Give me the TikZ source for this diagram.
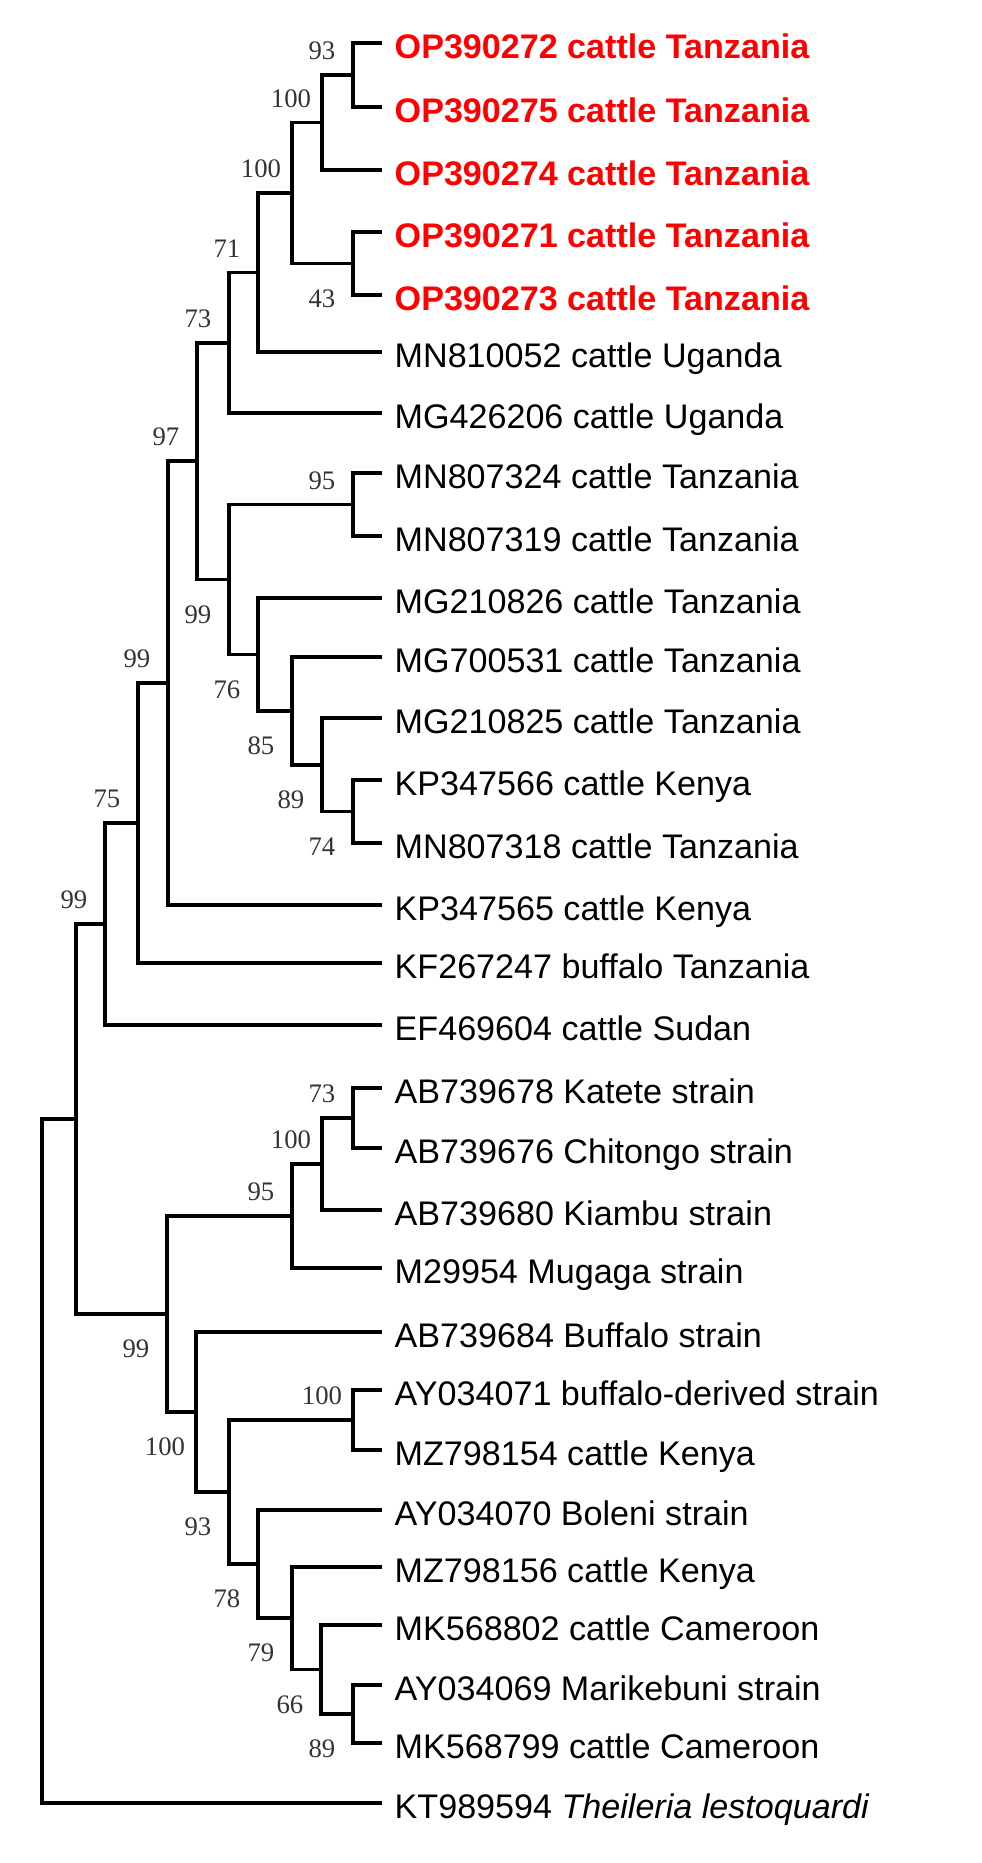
\documentclass[tikz,border=0pt]{standalone}
\usepackage{fontspec}
\setmainfont{Liberation Sans}
\newfontfamily\bootfont{Liberation Serif}
\usetikzlibrary{positioning}

\begin{document}
\begin{tikzpicture}[x=0.01cm,y=-0.01cm,
  branch/.style={line width=1pt,black},
  leaf/.style={inner sep=0.02cm,text height=0.3cm,text depth=0cm,font=\fontsize{9.7}{11.6}\selectfont},
  newseq/.style={leaf,text=red,font=\fontsize{9.7}{11.6}\selectfont\bfseries},
  boot/.style={inner sep=0pt,text=black!80,font=\bootfont\fontsize{7.6}{9}\selectfont},
  bup/.style={boot,xshift=-0.31cm,yshift=0.24cm},
  bdown/.style={boot,xshift=-0.31cm,yshift=-0.35cm}]
\useasboundingbox (0,0) rectangle (981,1863);
% leaf tips
\coordinate (t0) at (382,43);
\coordinate (t1) at (382,107);
\coordinate (t2) at (382,170);
\coordinate (t3) at (382,232);
\coordinate (t4) at (382,295);
\coordinate (t5) at (382,352);
\coordinate (t6) at (382,413);
\coordinate (t7) at (382,473);
\coordinate (t8) at (382,536);
\coordinate (t9) at (382,598);
\coordinate (t10) at (382,657);
\coordinate (t11) at (382,718);
\coordinate (t12) at (382,780);
\coordinate (t13) at (382,843);
\coordinate (t14) at (382,905);
\coordinate (t15) at (382,963);
\coordinate (t16) at (382,1025);
\coordinate (t17) at (382,1088);
\coordinate (t18) at (382,1148);
\coordinate (t19) at (382,1210);
\coordinate (t20) at (382,1268);
\coordinate (t21) at (382,1332);
\coordinate (t22) at (382,1390);
\coordinate (t23) at (382,1450);
\coordinate (t24) at (382,1510);
\coordinate (t25) at (382,1567);
\coordinate (t26) at (382,1625);
\coordinate (t27) at (382,1685);
\coordinate (t28) at (382,1743);
\coordinate (t29) at (382,1803);
% taxa
\node[newseq,right=0.1cm of t0] (n0) {OP390272 cattle Tanzania};
\node[newseq,right=0.1cm of t1] (n1) {OP390275 cattle Tanzania};
\node[newseq,right=0.1cm of t2] (n2) {OP390274 cattle Tanzania};
\node[newseq,right=0.1cm of t3] (n3) {OP390271 cattle Tanzania};
\node[newseq,right=0.1cm of t4] (n4) {OP390273 cattle Tanzania};
\node[leaf,right=0.1cm of t5] (n5) {MN810052 cattle Uganda};
\node[leaf,right=0.1cm of t6] (n6) {MG426206 cattle Uganda};
\node[leaf,right=0.1cm of t7] (n7) {MN807324 cattle Tanzania};
\node[leaf,right=0.1cm of t8] (n8) {MN807319 cattle Tanzania};
\node[leaf,right=0.1cm of t9] (n9) {MG210826 cattle Tanzania};
\node[leaf,right=0.1cm of t10] (n10) {MG700531 cattle Tanzania};
\node[leaf,right=0.1cm of t11] (n11) {MG210825 cattle Tanzania};
\node[leaf,right=0.1cm of t12] (n12) {KP347566 cattle Kenya};
\node[leaf,right=0.1cm of t13] (n13) {MN807318 cattle Tanzania};
\node[leaf,right=0.1cm of t14] (n14) {KP347565 cattle Kenya};
\node[leaf,right=0.1cm of t15] (n15) {KF267247 buffalo Tanzania};
\node[leaf,right=0.1cm of t16] (n16) {EF469604 cattle Sudan};
\node[leaf,right=0.1cm of t17] (n17) {AB739678 Katete strain};
\node[leaf,right=0.1cm of t18] (n18) {AB739676 Chitongo strain};
\node[leaf,right=0.1cm of t19] (n19) {AB739680 Kiambu strain};
\node[leaf,right=0.1cm of t20] (n20) {M29954 Mugaga strain};
\node[leaf,right=0.1cm of t21] (n21) {AB739684 Buffalo strain};
\node[leaf,right=0.1cm of t22] (n22) {AY034071 buffalo-derived strain};
\node[leaf,right=0.1cm of t23] (n23) {MZ798154 cattle Kenya};
\node[leaf,right=0.1cm of t24] (n24) {AY034070 Boleni strain};
\node[leaf,right=0.1cm of t25] (n25) {MZ798156 cattle Kenya};
\node[leaf,right=0.1cm of t26] (n26) {MK568802 cattle Cameroon};
\node[leaf,right=0.1cm of t27] (n27) {AY034069 Marikebuni strain};
\node[leaf,right=0.1cm of t28] (n28) {MK568799 cattle Cameroon};
\node[leaf,right=0.1cm of t29] (n29) {KT989594 \textit{Theileria lestoquardi}};
% internal nodes
\coordinate (A) at (353,75);
\coordinate (B) at (322,122.5);
\coordinate (C) at (353,263.5);
\coordinate (D) at (292,193);
\coordinate (E) at (258,272.5);
\coordinate (F) at (229,342.75);
\coordinate (J) at (353,504.5);
\coordinate (N) at (353,811.5);
\coordinate (M) at (322,764.75);
\coordinate (L) at (292,710.9);
\coordinate (K) at (258,654.4);
\coordinate (H) at (229,579.5);
\coordinate (G) at (197,461);
\coordinate (I) at (168,683);
\coordinate (P) at (138,823);
\coordinate (Q) at (105,924);
\coordinate (T) at (353,1118);
\coordinate (U) at (322,1164);
\coordinate (V) at (292,1216);
\coordinate (Y) at (353,1420);
\coordinate (Z4) at (353,1714);
\coordinate (Z3) at (321,1669.5);
\coordinate (Z2) at (292,1618);
\coordinate (Z) at (258,1564);
\coordinate (X) at (229,1492);
\coordinate (W) at (196,1412);
\coordinate (S) at (167,1314);
\coordinate (R) at (76,1119);
\coordinate (root) at (42,1461);
% branches
\draw[branch] (A) |- (t0); \draw[branch] (A) |- (t1);
\draw[branch] (B) |- (A); \draw[branch] (B) |- (t2);
\draw[branch] (C) |- (t3); \draw[branch] (C) |- (t4);
\draw[branch] (D) |- (B); \draw[branch] (D) |- (C);
\draw[branch] (E) |- (D); \draw[branch] (E) |- (t5);
\draw[branch] (F) |- (E); \draw[branch] (F) |- (t6);
\draw[branch] (J) |- (t7); \draw[branch] (J) |- (t8);
\draw[branch] (N) |- (t12); \draw[branch] (N) |- (t13);
\draw[branch] (M) |- (t11); \draw[branch] (M) |- (N);
\draw[branch] (L) |- (t10); \draw[branch] (L) |- (M);
\draw[branch] (K) |- (t9); \draw[branch] (K) |- (L);
\draw[branch] (H) |- (J); \draw[branch] (H) |- (K);
\draw[branch] (G) |- (F); \draw[branch] (G) |- (H);
\draw[branch] (I) |- (G); \draw[branch] (I) |- (t14);
\draw[branch] (P) |- (I); \draw[branch] (P) |- (t15);
\draw[branch] (Q) |- (P); \draw[branch] (Q) |- (t16);
\draw[branch] (T) |- (t17); \draw[branch] (T) |- (t18);
\draw[branch] (U) |- (T); \draw[branch] (U) |- (t19);
\draw[branch] (V) |- (U); \draw[branch] (V) |- (t20);
\draw[branch] (Y) |- (t22); \draw[branch] (Y) |- (t23);
\draw[branch] (Z4) |- (t27); \draw[branch] (Z4) |- (t28);
\draw[branch] (Z3) |- (t26); \draw[branch] (Z3) |- (Z4);
\draw[branch] (Z2) |- (t25); \draw[branch] (Z2) |- (Z3);
\draw[branch] (Z) |- (t24); \draw[branch] (Z) |- (Z2);
\draw[branch] (X) |- (Y); \draw[branch] (X) |- (Z);
\draw[branch] (W) |- (t21); \draw[branch] (W) |- (X);
\draw[branch] (S) |- (V); \draw[branch] (S) |- (W);
\draw[branch] (R) |- (Q); \draw[branch] (R) |- (S);
\draw[branch] (root) |- (R); \draw[branch] (root) |- (t29);
% bootstrap values
\node[bup] (bA) at (A) {93};
\node[bup] (bB) at (B) {100};
\node[bdown] (bC) at (C) {43};
\node[bup] (bD) at (D) {100};
\node[bup] (bE) at (E) {71};
\node[bup] (bF) at (F) {73};
\node[bup] (bJ) at (J) {95};
\node[bdown] (bN) at (N) {74};
\node[bdown] (bM) at (M) {89};
\node[bdown] (bL) at (L) {85};
\node[bdown] (bK) at (K) {76};
\node[bdown] (bH) at (H) {99};
\node[bup] (bG) at (G) {97};
\node[bup] (bI) at (I) {99};
\node[bup] (bP) at (P) {75};
\node[bup] (bQ) at (Q) {99};
\node[bup] (bT) at (T) {73};
\node[bup] (bU) at (U) {100};
\node[bup] (bV) at (V) {95};
\node[bup] (bY) at (Y) {100};
\node[bdown] (bZ4) at (Z4) {89};
\node[bdown] (bZ3) at (Z3) {66};
\node[bdown] (bZ2) at (Z2) {79};
\node[bdown] (bZ) at (Z) {78};
\node[bdown] (bX) at (X) {93};
\node[bdown] (bW) at (W) {100};
\node[bdown] (bS) at (S) {99};
\end{tikzpicture}
\end{document}
